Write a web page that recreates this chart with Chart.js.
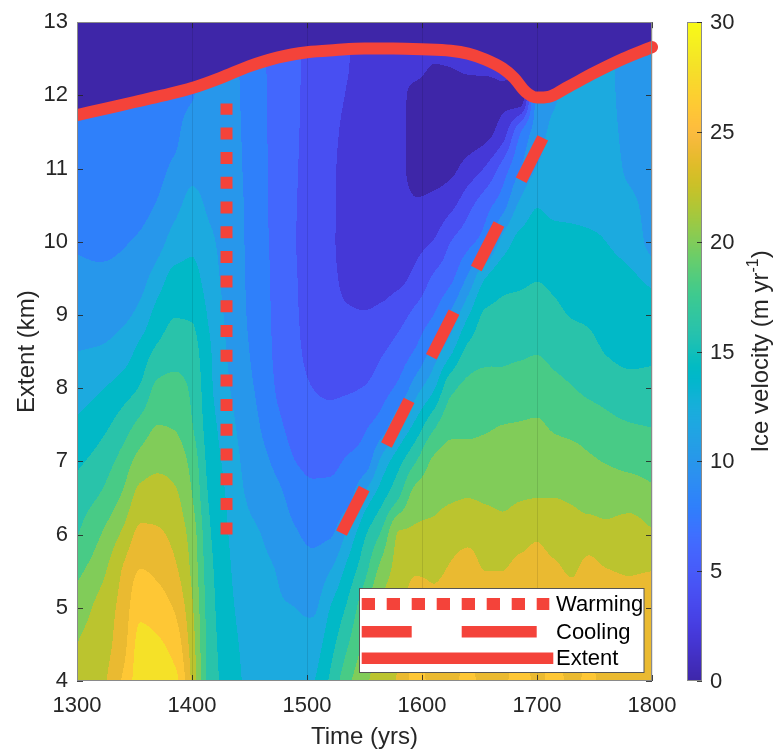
<!DOCTYPE html>
<html>
<head>
<meta charset="utf-8">
<script src="https://cdn.jsdelivr.net/npm/chart.js@4.4.1/dist/chart.umd.min.js"></script>
<style>
html,body{margin:0;padding:0;background:#fff;}
#wrap{width:776px;height:752px;position:relative;}
</style>
</head>
<body>
<div id="wrap"><canvas id="c" width="776" height="752"></canvas></div>
<script>
// ---------------- DATA ----------------
// Ice extent line (time, km)
const extentYears = [1300,1325,1350,1375,1400,1425,1450,1475,1500,1525,1550,1575,1600,1625,1640,1655,1670,1680,1690,1700,1710,1725,1750,1775,1800];
const extentKm    = [11.73,11.82,11.91,12.00,12.10,12.24,12.40,12.52,12.59,12.62,12.64,12.64,12.63,12.61,12.57,12.49,12.37,12.24,12.05,11.97,11.98,12.10,12.31,12.50,12.66];

// Warming (dotted) and cooling (dashed) markers
const warmingYears = [1430, 1430];
const warmingKm    = [6.0, 11.89];
const coolingYears = [1530, 1705];
const coolingKm    = [6.02, 11.42];

// Velocity field grid (m/yr): one array per time column, values at gridExtents
const gridExtents = [4.0,4.5,5.0,5.5,6.0,6.5,7.0,7.5,8.0,8.5,9.0,9.5,10.0,10.5,11.0,11.5,12.0,12.5,13.0];
const gridYears = [1300,1320,1340,1355,1370,1385,1400,1415,1430,1445,1460,1475,1490,1505,1520,1535,1550,1565,1580,1595,1610,1625,1640,1655,1670,1685,1700,1715,1730,1745,1760,1780,1800];

const vel1300 = [22.4,22.0,21.0,19.5,17.9,17.0,15.6,14.3,13.1,12.0,11.2,10.5,9.8,9.5,9.3,9.2,9.2,9.2,9.2];
const vel1320 = [23.4,23.0,22.6,21.3,19.9,18.2,16.8,15.3,13.8,12.2,11.2,10.4,9.6,9.3,9.1,9.0,9.0,9.0,9.0];
const vel1340 = [26.3,25.3,24.8,24.2,22.4,20.4,18.8,17.0,15.0,13.0,11.6,10.6,9.9,9.6,9.4,9.3,9.3,9.3,9.3];
const vel1355 = [29.0,28.6,27.5,26.1,24.5,22.8,20.8,18.6,16.2,14.7,12.6,11.3,10.2,9.7,9.5,9.4,9.4,9.4,9.4];
const vel1370 = [29.2,28.3,27.0,25.6,24.3,23.0,21.5,20.0,18.5,16.4,14.8,13.0,11.2,10.1,9.7,9.5,9.5,9.5,9.5];
const vel1385 = [28.6,27.2,25.8,24.4,23.4,22.4,21.2,19.8,18.8,17.0,15.9,14.6,12.9,11.4,10.3,9.7,9.6,9.6,9.6];
const vel1400 = [23.6,23.0,22.3,21.6,21.1,20.1,19.3,18.1,17.6,16.7,15.8,14.6,13.6,12.6,11.5,10.8,9.9,9.7,9.7];
const vel1415 = [17.3,17.2,17.0,16.7,16.3,15.8,15.3,14.9,14.5,14.3,13.7,13.0,12.4,11.7,11.3,11.0,10.9,10.9,10.9];
const vel1430 = [15.3,15.0,14.7,14.5,14.2,13.9,13.5,13.0,12.4,12.0,11.7,11.4,11.3,11.2,11.1,11.0,10.9,10.9,10.9];
const vel1445 = [13.9,13.7,13.4,13.0,12.6,12.1,11.7,11.2,10.7,10.4,10.2,10.1,10.05,10.0,9.9,9.8,9.7,9.6,9.6];
const vel1460 = [13.3,13.0,12.7,12.4,12.0,11.3,10.6,9.9,9.5,9.2,9.0,8.9,8.8,8.7,8.7,8.6,8.6,8.5,8.5];
const vel1475 = [12.7,12.4,12.15,11.9,11.2,10.5,9.4,8.4,7.7,7.4,7.3,7.2,7.1,7.0,7.0,7.0,6.9,6.9,6.9];
const vel1490 = [12.5,12.3,12.0,11.0,10.2,9.2,8.0,7.2,6.7,6.4,6.25,6.15,6.05,6.1,6.2,6.3,6.35,6.4,6.4];
const vel1505 = [13.8,12.9,11.7,10.7,9.6,8.6,7.5,6.7,6.0,5.4,5.0,4.8,4.7,4.7,4.7,4.8,4.9,5.0,5.0];
const vel1520 = [16.3,15.2,14.0,12.0,9.8,8.6,7.6,6.7,5.7,5.0,4.6,4.4,4.3,4.3,4.3,4.4,4.5,4.6,4.6];
const vel1535 = [19.4,17.8,16.3,14.6,12.4,9.3,8.2,7.0,5.8,4.8,4.2,3.6,3.3,3.3,3.4,3.6,3.9,4.1,4.1];
const vel1550 = [21.6,20.5,19.4,17.4,15.7,12.7,8.9,7.7,6.1,4.9,4.1,3.4,3.1,2.9,2.9,3.0,3.1,3.2,3.2];
const vel1565 = [23.0,22.8,22.4,20.8,18.4,15.4,12.6,8.9,7.2,5.8,4.4,3.4,2.9,2.6,2.5,2.5,2.6,2.7,2.7];
const vel1580 = [24.3,23.8,23.3,22.8,22.2,18.0,15.4,11.8,8.5,6.9,5.3,3.6,2.9,2.5,2.3,2.3,2.3,2.4,2.4];
const vel1595 = [26.8,26.3,25.4,23.8,22.4,21.0,18.0,14.6,11.2,8.3,6.6,4.6,3.4,2.2,1.5,1.4,1.6,2.6,2.6];
const vel1610 = [25.4,25.1,24.5,23.7,22.6,21.4,20.3,17.5,13.7,10.8,8.0,6.3,4.1,2.6,1.3,1.0,1.2,2.1,2.5];
const vel1625 = [25.6,25.3,25.0,24.2,23.4,21.8,20.9,19.3,17.5,13.6,10.4,7.6,6.0,3.5,1.6,0.9,1.1,2.2,2.5];
const vel1640 = [26.4,26.0,25.3,24.6,23.6,22.0,21.0,19.4,18.5,16.6,13.8,10.4,7.4,5.4,2.8,1.0,0.8,2.8,2.8];
const vel1655 = [25.5,25.2,25.0,24.0,23.2,21.8,21.0,19.7,18.8,17.4,16.3,14.0,9.0,7.2,4.2,1.4,0.8,3.0,3.0];
const vel1670 = [25.6,25.2,24.9,24.0,22.6,21.7,21.0,20.0,18.6,17.6,16.5,15.4,12.7,9.2,6.8,3.0,1.5,3.0,3.0];
const vel1685 = [27.0,26.6,25.8,24.7,23.2,21.9,21.1,20.1,19.0,17.7,16.8,15.6,14.6,12.4,9.9,7.7,0.5,3.0,3.0];
const vel1700 = [25.6,25.3,25.2,24.6,23.8,22.0,21.3,20.2,19.2,17.9,17.0,15.9,14.9,13.9,12.1,11.0,10.6,10.6,10.6];
const vel1715 = [26.6,26.2,25.5,24.4,23.2,22.0,21.0,19.7,18.6,17.4,16.5,15.5,14.6,13.6,12.9,12.4,11.8,11.5,11.5];
const vel1730 = [25.6,25.3,25.0,23.8,22.9,21.8,20.8,19.4,18.1,17.0,15.9,15.0,14.4,13.6,13.0,12.6,12.4,12.4,12.4];
const vel1745 = [26.3,26.0,25.3,24.6,23.0,21.3,20.3,19.0,17.6,16.6,15.7,15.0,14.3,13.5,13.0,12.7,12.5,12.4,12.4];
const vel1760 = [25.6,25.2,24.9,24.1,22.6,21.2,19.9,18.5,17.3,15.9,15.2,14.6,14.0,13.4,13.0,12.7,12.5,12.4,12.4];
const vel1780 = [25.7,25.2,24.6,23.9,23.0,21.2,19.5,18.1,16.8,15.4,14.8,14.3,13.3,12.6,11.6,11.3,11.1,11.0,11.0];
const vel1800 = [25.9,25.4,24.9,24.0,22.3,20.6,19.2,17.9,16.7,15.6,14.8,13.6,11.2,11.0,10.9,10.9,10.9,10.9,10.9];

const velocityByYear = [vel1300,vel1320,vel1340,vel1355,vel1370,vel1385,vel1400,vel1415,vel1430,vel1445,vel1460,vel1475,vel1490,vel1505,vel1520,vel1535,vel1550,vel1565,vel1580,vel1595,vel1610,vel1625,vel1640,vel1655,vel1670,vel1685,vel1700,vel1715,vel1730,vel1745,vel1760,vel1780,vel1800];

const contourStep = 2;        // filled-contour interval (m/yr)
const colorMin = 0, colorMax = 30;
const colorbarTicks = [0,5,10,15,20,25,30];

// ---------------- STYLE ----------------
const RED = '#F4433A';
const FONT = '"Liberation Sans", Arial, Helvetica, sans-serif';
const TXT = '#262626';
const PARULA = [
[0.2422,0.1504,0.6603],[0.2504,0.1650,0.7076],[0.2578,0.1818,0.7511],[0.2647,0.1978,0.7952],
[0.2706,0.2147,0.8364],[0.2751,0.2342,0.8710],[0.2783,0.2559,0.8991],[0.2803,0.2782,0.9221],
[0.2813,0.3006,0.9414],[0.2810,0.3228,0.9579],[0.2795,0.3447,0.9717],[0.2760,0.3667,0.9829],
[0.2699,0.3892,0.9906],[0.2602,0.4123,0.9952],[0.2440,0.4358,0.9988],[0.2206,0.4603,0.9973],
[0.1963,0.4847,0.9892],[0.1834,0.5074,0.9798],[0.1786,0.5289,0.9682],[0.1764,0.5499,0.9520],
[0.1687,0.5703,0.9359],[0.1540,0.5902,0.9218],[0.1460,0.6091,0.9079],[0.1380,0.6276,0.8973],
[0.1248,0.6459,0.8883],[0.1113,0.6635,0.8763],[0.0952,0.6798,0.8598],[0.0689,0.6948,0.8394],
[0.0297,0.7082,0.8163],[0.0036,0.7203,0.7917],[0.0067,0.7312,0.7660],[0.0433,0.7411,0.7394],
[0.0964,0.7500,0.7120],[0.1408,0.7584,0.6842],[0.1717,0.7670,0.6554],[0.1938,0.7758,0.6251],
[0.2161,0.7843,0.5923],[0.2470,0.7918,0.5567],[0.2906,0.7973,0.5188],[0.3406,0.8008,0.4789],
[0.3909,0.8029,0.4354],[0.4456,0.8024,0.3909],[0.5044,0.7993,0.3480],[0.5616,0.7942,0.3045],
[0.6174,0.7876,0.2612],[0.6720,0.7793,0.2227],[0.7242,0.7698,0.1910],[0.7738,0.7598,0.1646],
[0.8203,0.7498,0.1535],[0.8634,0.7406,0.1596],[0.9035,0.7330,0.1774],[0.9393,0.7288,0.2100],
[0.9728,0.7298,0.2394],[0.9956,0.7434,0.2371],[0.9970,0.7659,0.2199],[0.9952,0.7893,0.2028],
[0.9892,0.8136,0.1885],[0.9786,0.8386,0.1766],[0.9676,0.8639,0.1643],[0.9610,0.8890,0.1537],
[0.9597,0.9135,0.1423],[0.9628,0.9373,0.1265],[0.9691,0.9606,0.1064],[0.9769,0.9839,0.0805]];
function parula(t){
  t = Math.min(1, Math.max(0, t));
  const f = t*63, i = Math.min(62, Math.floor(f)), r = f - i;
  const a = PARULA[i], b = PARULA[i+1];
  return [0,1,2].map(k => Math.round(255*(a[k] + (b[k]-a[k])*r)));
}
const bandColors = [];
for (let l = colorMin; l < colorMax; l += contourStep) bandColors.push(parula((l-colorMin)/(colorMax-colorMin)));

function interp1(xs, ys, x){
  if (x <= xs[0]) return ys[0];
  for (let i=0;i<xs.length-1;i++){
    if (x <= xs[i+1]) { const f=(x-xs[i])/(xs[i+1]-xs[i]); return ys[i]+(ys[i+1]-ys[i])*f; }
  }
  return ys[ys.length-1];
}
// monotone (Fritsch-Butland) tangents for non-uniform knots
function monoTangents(xs, ys){
  const n = xs.length, m = new Float64Array(n), h = [], d = [];
  for (let k=0;k<n-1;k++){ h[k]=xs[k+1]-xs[k]; d[k]=(ys[k+1]-ys[k])/h[k]; }
  m[0]=d[0]; m[n-1]=d[n-2];
  for (let k=1;k<n-1;k++){
    if (d[k-1]*d[k] <= 0) m[k]=0;
    else m[k] = 3*(h[k-1]+h[k]) / ((2*h[k]+h[k-1])/d[k-1] + (h[k]+2*h[k-1])/d[k]);
  }
  return m;
}
function hermite(xs, ys, m, k, x){
  const h = xs[k+1]-xs[k], t = Math.min(1, Math.max(0, (x-xs[k])/h));
  const t2=t*t, t3=t2*t;
  return (2*t3-3*t2+1)*ys[k] + (t3-2*t2+t)*h*m[k] + (-2*t3+3*t2)*ys[k+1] + (t3-t2)*h*m[k+1];
}
const pts = (xs, ys) => xs.map((x,i)=>({x, y: ys[i]}));

// ---------------- PLUGINS ----------------
const fieldPlugin = {
  id: 'field',
  beforeDraw(chart){
    const {ctx, chartArea:a, scales:{x, y}} = chart;
    const L=Math.round(a.left), T=Math.round(a.top), W=Math.round(a.right)-L, H=Math.round(a.bottom)-T;
    const img = ctx.createImageData(W, H), d = img.data;
    const nC = gridYears.length, nR = gridExtents.length;
    // rows across years (for interpolation along time)
    const rowsVals = [], rowsTan = [];
    for (let k=0;k<nR;k++){
      const row = velocityByYear.map(col => col[k]);
      rowsVals.push(row); rowsTan.push(monoTangents(gridYears, row));
    }
    // pixel rows -> extent value and interval index
    const rE = new Float64Array(H), rK = new Int32Array(H);
    for (let r=0;r<H;r++){
      const e = y.getValueForPixel(T+r+0.5);
      let k=0; while (k<nR-2 && e>gridExtents[k+1]) k++;
      rE[r]=e; rK[r]=k;
    }
    const nb = bandColors.length;
    for (let i=0;i<W;i++){
      const yr = x.getValueForPixel(L+i+0.5);
      let j=0; while (j<nC-2 && yr>gridYears[j+1]) j++;
      const colV = gridExtents.map((_,k) => hermite(gridYears, rowsVals[k], rowsTan[k], j, yr));
      const colT = monoTangents(gridExtents, colV);
      const ext = interp1(extentYears, extentKm, yr);
      for (let r=0;r<H;r++){
        let c;
        if (rE[r] > ext) c = bandColors[0];
        else {
          const v = hermite(gridExtents, colV, colT, rK[r], rE[r]);
          let lv=Math.floor((v-colorMin)/contourStep); lv=Math.max(0,Math.min(nb-1,lv));
          c=bandColors[lv];
        }
        const p=(r*W+i)*4; d[p]=c[0]; d[p+1]=c[1]; d[p+2]=c[2]; d[p+3]=255;
      }
    }
    ctx.putImageData(img, L, T);
  }
};

const decorPlugin = {
  id: 'decor',
  afterDraw(chart){
    const {ctx, chartArea:a, scales:{x, y}} = chart;
    ctx.save();
    // inward ticks
    ctx.strokeStyle = 'rgba(38,38,38,0.85)'; ctx.lineWidth = 1;
    ctx.beginPath();
    x.ticks.forEach(t => { const px=Math.round(x.getPixelForValue(t.value))+0.5;
      ctx.moveTo(px,a.bottom); ctx.lineTo(px,a.bottom-6); ctx.moveTo(px,a.top); ctx.lineTo(px,a.top+6); });
    y.ticks.forEach(t => { const py=Math.round(y.getPixelForValue(t.value))+0.5;
      ctx.moveTo(a.left,py); ctx.lineTo(a.left+6,py); ctx.moveTo(a.right,py); ctx.lineTo(a.right-6,py); });
    ctx.stroke();
    // box
    ctx.strokeStyle = '#8a8a8a';
    ctx.strokeRect(Math.round(a.left)+0.5, Math.round(a.top)+0.5, Math.round(a.right-a.left)-1, Math.round(a.bottom-a.top)-1);

    // legend
    const lx=359.5, ly=588.5, lw=284.5, lh=84;
    ctx.fillStyle='#fff'; ctx.fillRect(lx,ly,lw,lh);
    ctx.strokeStyle='#555'; ctx.lineWidth=1; ctx.strokeRect(lx,ly,lw,lh);
    const ds = chart.data.datasets;
    const x0 = 361.7;
    ctx.strokeStyle = RED; ctx.lineCap='butt';
    ctx.lineWidth = 12; ctx.setLineDash([13.3,11.7]);
    ctx.beginPath(); ctx.moveTo(x0,604); ctx.lineTo(549.3,604); ctx.stroke();
    ctx.setLineDash([]); ctx.lineWidth = 11.5;
    ctx.beginPath(); ctx.moveTo(x0,631.7); ctx.lineTo(411.7,631.7); ctx.moveTo(461.7,631.7); ctx.lineTo(536.7,631.7); ctx.stroke();
    ctx.beginPath(); ctx.moveTo(x0,658.3); ctx.lineTo(553.3,658.3); ctx.stroke();
    ctx.fillStyle='#000'; ctx.font='22px '+FONT; ctx.textBaseline='middle'; ctx.textAlign='left';
    ctx.fillText(ds[0].label, 556, 605);
    ctx.fillText(ds[1].label, 556, 632.5);
    ctx.fillText(ds[2].label, 556, 659);

    // colorbar
    const cbX=687, cbW=15, top=Math.round(a.top), bot=Math.round(a.bottom), Hc=bot-top;
    for (let py=top; py<bot; py++){
      const c = parula((bot-(py+0.5))/Hc);
      ctx.fillStyle=`rgb(${c[0]},${c[1]},${c[2]})`; ctx.fillRect(cbX,py,cbW,1);
    }
    ctx.strokeStyle='#8a8a8a'; ctx.lineWidth=1;
    ctx.strokeRect(cbX+0.5, top+0.5, cbW-1, Hc-1);
    ctx.strokeStyle='rgba(38,38,38,0.85)';
    ctx.fillStyle=TXT; ctx.font='22px '+FONT; ctx.textAlign='left'; ctx.textBaseline='middle';
    colorbarTicks.forEach(v => {
      const py = bot - (v-colorMin)/(colorMax-colorMin)*Hc;
      const pr = Math.round(py)+0.5;
      ctx.beginPath(); ctx.moveTo(cbX+cbW,pr); ctx.lineTo(cbX+cbW-5,pr); ctx.stroke();
      ctx.fillText(String(v), 710, py+1);
    });
    // colorbar label
    ctx.translate(760, (top+bot)/2); ctx.rotate(-Math.PI/2);
    const big='24px '+FONT, small='16px '+FONT;
    const p1='Ice velocity (m yr', p2='-1', p3=')';
    ctx.font=big; const w1=ctx.measureText(p1).width, w3=ctx.measureText(p3).width;
    ctx.font=small; const w2=ctx.measureText(p2).width;
    let sx = -(w1+w2+w3)/2;
    ctx.textBaseline='alphabetic'; ctx.fillStyle=TXT;
    ctx.font=big; ctx.fillText(p1, sx, 8); sx+=w1;
    ctx.font=small; ctx.fillText(p2, sx, -2); sx+=w2;
    ctx.font=big; ctx.fillText(p3, sx, 8);
    ctx.restore();
  }
};

// ---------------- CHART ----------------
new Chart(document.getElementById('c'), {
  type: 'scatter',
  data: {
    datasets: [
      { label:'Warming', data: pts(warmingYears, warmingKm), showLine:true, borderColor:RED, backgroundColor:RED,
        borderWidth:12, borderDash:[12,12.7], borderCapStyle:'butt', pointRadius:0 },
      { label:'Cooling', data: pts(coolingYears, coolingKm), showLine:true, borderColor:RED, backgroundColor:RED,
        borderWidth:12, borderDash:[50,49], borderCapStyle:'butt', pointRadius:0 },
      { label:'Extent', data: pts(extentYears, extentKm), showLine:true, borderColor:RED, backgroundColor:RED,
        borderWidth:12, borderCapStyle:'round', borderJoinStyle:'round', cubicInterpolationMode:'monotone',
        pointRadius:0, clip:{left:0, top:0, right:8, bottom:0} }
    ]
  },
  options: {
    responsive:false, animation:false, devicePixelRatio:1, events:[],
    layout:{ padding:{ top:19, right:124, left:0, bottom:0 } },
    plugins:{ legend:{display:false}, tooltip:{enabled:false} },
    scales:{
      x:{ type:'linear', min:1300, max:1800,
          afterFit(s){ s.height = 71; },
          ticks:{ stepSize:100, autoSkip:false, maxRotation:0, callback:v=>String(v), font:{family:FONT,size:22}, color:TXT, padding:12 },
          grid:{ display:true, drawTicks:false, color:'rgba(0,0,0,0.10)', lineWidth:1 },
          border:{ display:false },
          title:{ display:true, text:'Time (yrs)', font:{family:FONT,size:24}, color:TXT, padding:{top:0,bottom:0} } },
      y:{ type:'linear', min:4, max:13,
          afterFit(s){ s.width = 77; },
          ticks:{ stepSize:1, callback:v=>String(v), font:{family:FONT,size:22}, color:TXT, padding:9 },
          grid:{ display:false, drawTicks:false },
          border:{ display:false },
          title:{ display:true, text:'Extent (km)', font:{family:FONT,size:24}, color:TXT, padding:{top:13,bottom:0} } }
    }
  },
  plugins:[fieldPlugin, decorPlugin]
});
</script>
</body>
</html>
